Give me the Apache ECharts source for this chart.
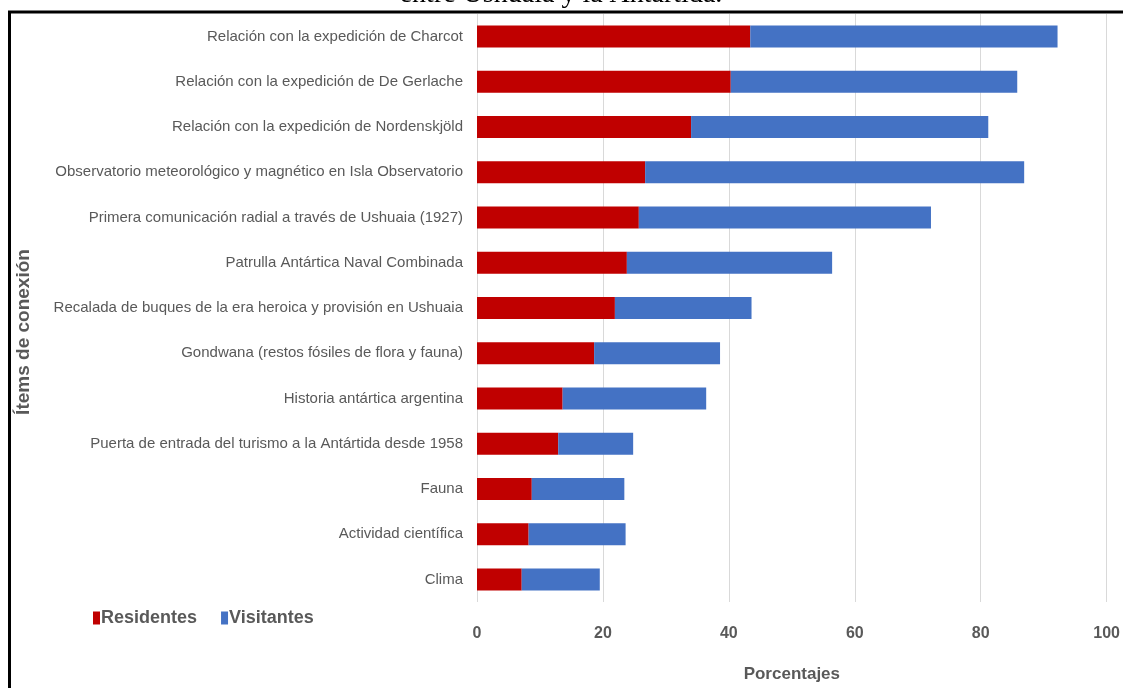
<!DOCTYPE html>
<html>
<head>
<meta charset="utf-8">
<script src="https://cdn.jsdelivr.net/npm/echarts@6/dist/echarts.min.js"></script>
<style>
  html, body { margin: 0; padding: 0; background: #fff; }
  #chart { width: 1123px; height: 688px; }
</style>
</head>
<body>
<div id="chart"></div>
<script>
// ítems de conexión (de arriba hacia abajo)
const items = [
  "Relación con la expedición de Charcot",
  "Relación con la expedición de De Gerlache",
  "Relación con la expedición de Nordenskjöld",
  "Observatorio meteorológico y magnético en Isla Observatorio",
  "Primera comunicación radial a través de Ushuaia (1927)",
  "Patrulla Antártica Naval Combinada",
  "Recalada de buques de la era heroica y provisión en Ushuaia",
  "Gondwana (restos fósiles de flora y fauna)",
  "Historia antártica argentina",
  "Puerta de entrada del turismo a la Antártida desde 1958",
  "Fauna",
  "Actividad científica",
  "Clima"
];
const residentes = [43.4, 40.3, 34.0, 26.7, 25.7, 23.8, 21.9, 18.6, 13.6, 12.9, 8.7, 8.2, 7.1];
const visitantes = [48.8, 45.5, 47.2, 60.2, 46.4, 32.6, 21.7, 20.0, 22.8, 11.9, 14.7, 15.4, 12.4];
const xTicks = [0, 20, 40, 60, 80, 100];

const gray = "#595959";
const chart = echarts.init(document.getElementById("chart"));
chart.setOption({
  animation: false,
  backgroundColor: "#fff",
  grid: { left: 477, right: 16, top: 14, bottom: 80 },
  legend: {
    left: 88,
    top: 604,
    itemWidth: 7,
    itemHeight: 13,
    itemGap: 24,
    icon: "rect",
    data: ["Residentes", "Visitantes"],
    textStyle: { color: gray, fontSize: 18, fontWeight: "bold", fontFamily: "Liberation Sans", padding: [0, 0, 0, -4] }
  },
  xAxis: {
    type: "value",
    min: xTicks[0],
    max: xTicks[xTicks.length - 1],
    interval: 20,
    name: "Porcentajes",
    nameLocation: "middle",
    nameGap: 64,
    nameTextStyle: { color: gray, fontSize: 17, fontWeight: "bold", fontFamily: "Liberation Sans" },
    axisLine: { show: false },
    axisTick: { show: false },
    axisLabel: { color: gray, fontSize: 16, fontWeight: "bold", margin: 24, fontFamily: "Liberation Sans" },
    splitLine: { lineStyle: { color: "#d9d9d9", width: 1 } }
  },
  yAxis: {
    type: "category",
    inverse: true,
    data: items,
    axisLine: { show: false },
    axisTick: { show: false },
    axisLabel: { color: gray, fontSize: 15, margin: 14, fontFamily: "Liberation Sans" }
  },
  series: [
    {
      name: "Residentes",
      type: "bar",
      stack: "total",
      barWidth: 22,
      itemStyle: { color: "#c00000" },
      data: residentes
    },
    {
      name: "Visitantes",
      type: "bar",
      stack: "total",
      barWidth: 22,
      itemStyle: { color: "#4472c4" },
      data: visitantes
    }
  ],
  graphic: [
    {
      type: "polyline",
      shape: { points: [[9.5, 688], [9.5, 12], [1123, 12]] },
      style: { stroke: "#000", lineWidth: 3, fill: null }
    },
    {
      type: "text",
      x: 561,
      y: 9,
      style: {
        text: "entre Ushuaia y la Antártida.",
        font: "28px 'Liberation Serif'",
        fill: "#000",
        textAlign: "center",
        textVerticalAlign: "bottom"
      }
    },
    {
      type: "text",
      x: 24,
      y: 332,
      rotation: Math.PI / 2,
      style: {
        text: "Ítems de conexión",
        font: "bold 19px 'Liberation Sans'",
        fill: gray,
        textAlign: "center",
        textVerticalAlign: "middle"
      }
    }
  ]
});
</script>
</body>
</html>
